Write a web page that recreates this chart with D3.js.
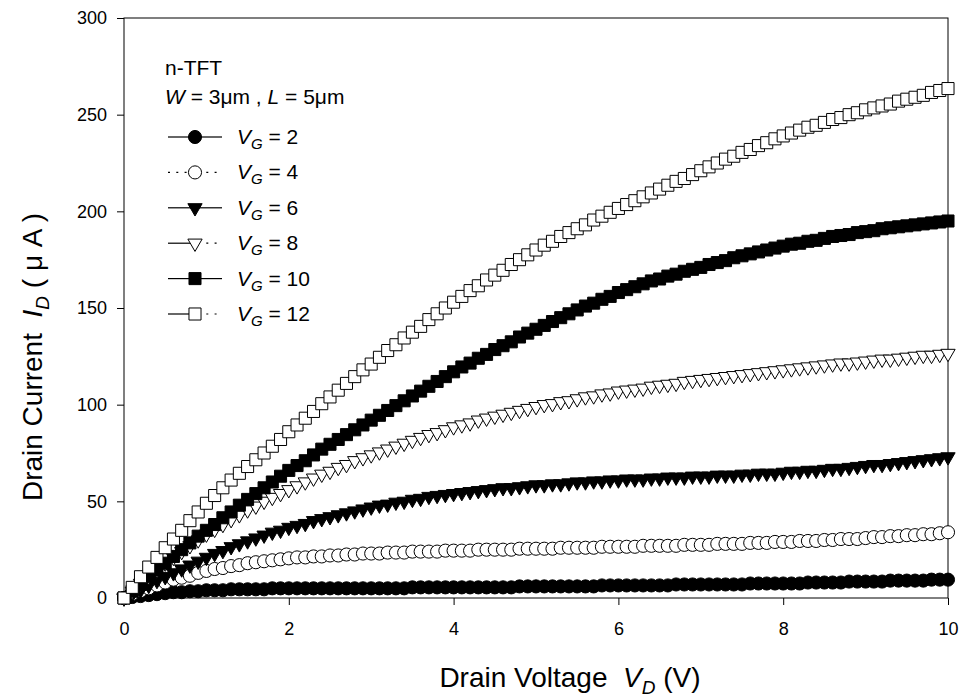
<!DOCTYPE html>
<html>
<head>
<meta charset="utf-8">
<script src="https://cdn.jsdelivr.net/npm/d3@7"></script>
<style>
  body { margin: 0; background: #fff; }
  svg { font-family: "Liberation Sans", Arial, sans-serif; }
  text { white-space: pre; }
</style>
</head>
<body>
<svg id="chart" width="964" height="698"></svg>
<script>
// drain voltage sweep (V)
const vd = [0,0.1,0.2,0.3,0.4,0.5,0.6,0.7,0.8,0.9,1,1.1,1.2,1.3,1.4,1.5,1.6,1.7,1.8,1.9,2,2.1,2.2,2.3,2.4,2.5,2.6,2.7,2.8,2.9,3,3.1,3.2,3.3,3.4,3.5,3.6,3.7,3.8,3.9,4,4.1,4.2,4.3,4.4,4.5,4.6,4.7,4.8,4.9,5,5.1,5.2,5.3,5.4,5.5,5.6,5.7,5.8,5.9,6,6.1,6.2,6.3,6.4,6.5,6.6,6.7,6.8,6.9,7,7.1,7.2,7.3,7.4,7.5,7.6,7.7,7.8,7.9,8,8.1,8.2,8.3,8.4,8.5,8.6,8.7,8.8,8.9,9,9.1,9.2,9.3,9.4,9.5,9.6,9.7,9.8,9.9,10];

// drain current (uA) for each gate voltage
const id2 = [0,
  0.5,1,1.5,2,2.5,3,3,3.5,3.5,4,
  4,4,4.5,4.5,4.5,4.5,4.5,5,5,5,
  5,5,5,5,5,5,5,5,5,5,
  5,5,5,5,5.5,5.5,5.5,5.5,5.5,5.5,
  5.5,5.5,5.5,5.5,5.5,5.5,5.5,6,6,6,
  6,6,6,6,6,6,6,6.5,6.5,6.5,
  6.5,6.5,6.5,6.5,6.5,6.5,7,7,7,7,
  7,7,7,7,7,7.5,7.5,7.5,7.5,7.5,
  7.5,7.5,8,8,8,8,8,8.5,8.5,8.5,
  8.5,8.5,9,9,9,9,9,9.5,9.5,9.5];
const id4 = [0,
  2,3.5,5,6.5,8,9.5,10.5,11.5,13,14,
  15,15.5,16.5,17,18,18.5,19,19.5,20,20.5,
  21,21,21.5,21.5,22,22,22.5,22.5,23,23,
  23,23.5,23.5,23.5,24,24,24,24,24.5,24.5,
  24.5,24.5,25,25,25,25,25,25.5,25.5,25.5,
  25.5,25.5,26,26,26,26,26,26.5,26.5,26.5,
  26.5,26.5,27,27,27,27,27,27.5,27.5,27.5,
  27.5,28,28,28,28,28.5,28.5,28.5,29,29,
  29,29.5,29.5,29.5,30,30,30.5,30.5,30.5,31,
  31.5,31.5,32,32,32.5,32.5,33,33,33.5,34];
const id6 = [0,
  2,4,6.5,9,11,13,15,17,19,21,
  23,24.5,26.5,28,29.5,31,32.5,34,35,36.5,
  37.5,38.5,40,41,42,43,44,45,46,47,
  48,48.5,49.5,50,51,51.5,52.5,53,53.5,54,
  54.5,55,55.5,56,56.5,57,57,57.5,58,58.5,
  58.5,59,59,59.5,60,60,60.5,60.5,61,61,
  61.5,61.5,61.5,62,62,62.5,62.5,62.5,63,63,
  63,63.5,63.5,63.5,64,64,64.5,64.5,64.5,65,
  65.5,65.5,66,66,66.5,67,67,67.5,68,68.5,
  69,69,69.5,70,70.5,71,71.5,72,72.5,73];
const id8 = [0,
  3.5,7.5,11,14.5,18,21,24,27,30,33,
  35.5,38,40.5,43,45.5,47.5,50,52,54,56,
  58,60,62,64,65.5,67.5,69,71,72.5,74,
  75.5,77,78.5,80,81.5,83,84.5,85.5,87,88.5,
  89.5,90.5,92,93,94,95,96,97,98,99,
  100,100.5,101.5,102,103,104,104.5,105.5,106,107,
  107.5,108,108.5,109.5,110,110.5,111,112,112.5,113,
  113.5,114,114.5,115,115.5,116,116.5,117,117.5,118,
  118.5,119,119.5,120,120.5,121,121.5,121.5,122,122.5,
  123,123.5,123.5,124,124.5,125,125.5,125.5,126,126.5];
const id10 = [0,
  3.5,7,11,14.5,18,21.5,25,28.5,32,35,
  38,41.5,44.5,48,51,54,57,60,63,66,
  68.5,71,74,77,79.5,82,84.5,87,89.5,92,
  94.5,97,99.5,102,104.5,107,109.5,112,114.5,117,
  119.5,121.5,124,126,128.5,130.5,132.5,135,137,139,
  141,143,145,147,149,151,152.5,154.5,156,158,
  159.5,161,162.5,164,165,166.5,167.5,169,170,171,
  172.5,173.5,174.5,176,177,178,179,180,181,182,
  183,183.5,184.5,185,186,187,187.5,188,189,189.5,
  190,191,191.5,192,192.5,193,193.5,194,194.5,195];
const id12 = [0,
  5.5,11,16,21,26,30.5,35,40,44.5,49,
  53,57,61,64.5,68,71.5,75,78.5,82,86,
  89.5,93,96.5,100.5,104,107.5,111,114.5,118,121,
  124.5,128,131,134.5,137.5,140.5,144,147,150,153,
  156,159,161.5,164.5,167,169.5,172.5,175,177.5,180,
  182.5,184.5,187,189,191,193,195.5,197.5,199.5,201.5,
  203.5,205.5,207.5,209.5,211.5,213.5,215.5,217,219,221,
  223,225,227,228.5,230.5,232,234,235.5,237.5,239,
  240.5,242,243.5,244.5,246,247.5,248.5,250,251,252.5,
  253.5,254.5,255.5,257,258,259,260,261.5,262.5,263.5];

const xTicks = [0, 2, 4, 6, 8, 10];
const yTicks = [0, 50, 100, 150, 200, 250, 300];
const gateLabels = ['2', '4', '6', '8', '10', '12'];

const series = [
  { vg: gateLabels[0], values: id2, shape: d3.symbolCircle, size: 135, fill: '#000', left: null, right: null, rot: 0 },
  { vg: gateLabels[1], values: id4, shape: d3.symbolCircle, size: 135, fill: '#fff', left: '2,6.3', right: '2,6.3', rot: 0 },
  { vg: gateLabels[2], values: id6, shape: d3.symbolTriangle, size: 88, fill: '#000', left: null, right: null, rot: 180 },
  { vg: gateLabels[3], values: id8, shape: d3.symbolTriangle, size: 88, fill: '#fff', left: null, right: '2,6.3', rot: 180 },
  { vg: gateLabels[4], values: id10, shape: d3.symbolSquare, size: 145, fill: '#000', left: null, right: null, rot: 0 },
  { vg: gateLabels[5], values: id12, shape: d3.symbolSquare, size: 145, fill: '#fff', left: null, right: '2,6.3', rot: 0 }
];

const margin = { top: 18, left: 124 };
const width = 948 - margin.left;
const height = 598 - margin.top;

const svg = d3.select('#chart');
const g = svg.append('g').attr('transform', `translate(${margin.left},${margin.top})`);

const xScale = d3.scaleLinear().domain([0, 10]).range([0, width]);
const yScale = d3.scaleLinear().domain([0, 300]).range([height, 0]);

// frame
g.append('rect')
  .attr('width', width)
  .attr('height', height)
  .attr('fill', 'none')
  .attr('stroke', '#000')
  .attr('stroke-width', 1);

const xAxis = g.append('g')
  .attr('transform', `translate(0,${height})`)
  .call(d3.axisBottom(xScale).tickValues(xTicks).tickSize(7).tickPadding(17).tickFormat(d3.format('d')));
const yAxis = g.append('g')
  .call(d3.axisLeft(yScale).tickValues(yTicks).tickSize(7).tickPadding(10).tickFormat(d3.format('d')));

[xAxis, yAxis].forEach((ax) => {
  ax.select('.domain').remove();
  ax.selectAll('line').attr('stroke', '#000');
  ax.selectAll('text').attr('font-size', 18).attr('fill', '#000').attr('font-family', '"Liberation Sans", Arial, sans-serif');
});

// series lines under the markers
const line = d3.line()
  .x((d, i) => xScale(vd[i]))
  .y((d) => yScale(d));

series.forEach((s) => {
  g.append('path')
    .datum(s.values)
    .attr('fill', 'none')
    .attr('stroke', '#000')
    .attr('stroke-width', 1)
    .attr('stroke-dasharray', s.left)
    .attr('d', line);
});

series.forEach((s) => {
  const sym = d3.symbol().type(s.shape).size(s.size);
  g.append('g')
    .selectAll('path')
    .data(s.values)
    .join('path')
    .attr('d', sym)
    .attr('transform', (d, i) => `translate(${xScale(vd[i])},${yScale(d)}) rotate(${s.rot})`)
    .attr('fill', s.fill)
    .attr('stroke', '#000')
    .attr('stroke-width', 1);
});

// annotation
svg.append('text')
  .attr('x', 165).attr('y', 75)
  .attr('font-size', 21)
  .text('n-TFT');

const wl = svg.append('text').attr('x', 165).attr('y', 104).attr('font-size', 21);
wl.append('tspan').attr('font-style', 'italic').text('W');
wl.append('tspan').text(' = 3\u03bcm , ');
wl.append('tspan').attr('font-style', 'italic').text('L');
wl.append('tspan').text(' = 5\u03bcm');

// legend
const legend = svg.append('g').attr('transform', 'translate(168,137)');
series.forEach((s, i) => {
  const row = legend.append('g').attr('transform', `translate(0,${i * 35.4})`);
  row.append('line')
    .attr('x1', 0).attr('x2', 24).attr('y1', 0).attr('y2', 0)
    .attr('stroke', '#000').attr('stroke-width', 1.2)
    .attr('stroke-dasharray', s.left);
  row.append('line')
    .attr('x1', 30).attr('x2', 54).attr('y1', 0).attr('y2', 0)
    .attr('stroke', '#000').attr('stroke-width', 1.2)
    .attr('stroke-dasharray', s.right);
  row.append('path')
    .attr('d', d3.symbol().type(s.shape).size(s.size)())
    .attr('transform', `translate(27,0) rotate(${s.rot})`)
    .attr('fill', s.fill)
    .attr('stroke', '#000');
  const t = row.append('text').attr('x', 69).attr('y', 7).attr('font-size', 21);
  t.append('tspan').attr('font-style', 'italic').text('V');
  t.append('tspan').attr('font-style', 'italic').attr('font-size', 15).attr('dy', 5).text('G');
  t.append('tspan').attr('dy', -5).text(` = ${s.vg}`);
});

// axis titles
const xt = svg.append('text')
  .attr('x', 570).attr('y', 687)
  .attr('text-anchor', 'middle')
  .attr('font-size', 28);
xt.append('tspan').text('Drain Voltage  ');
xt.append('tspan').attr('font-style', 'italic').text('V');
xt.append('tspan').attr('font-style', 'italic').attr('font-size', 19).attr('dy', 7).text('D');
xt.append('tspan').attr('dy', -7).text(' (V)');

const yt = svg.append('text')
  .attr('transform', 'translate(42,357) rotate(-90)')
  .attr('text-anchor', 'middle')
  .attr('font-size', 28);
yt.append('tspan').text('Drain Current  ');
yt.append('tspan').attr('font-style', 'italic').text('I');
yt.append('tspan').attr('font-style', 'italic').attr('font-size', 19).attr('dy', 7).text('D');
yt.append('tspan').attr('dy', -7).text(' ( \u03bc A )');
</script>
</body>
</html>
